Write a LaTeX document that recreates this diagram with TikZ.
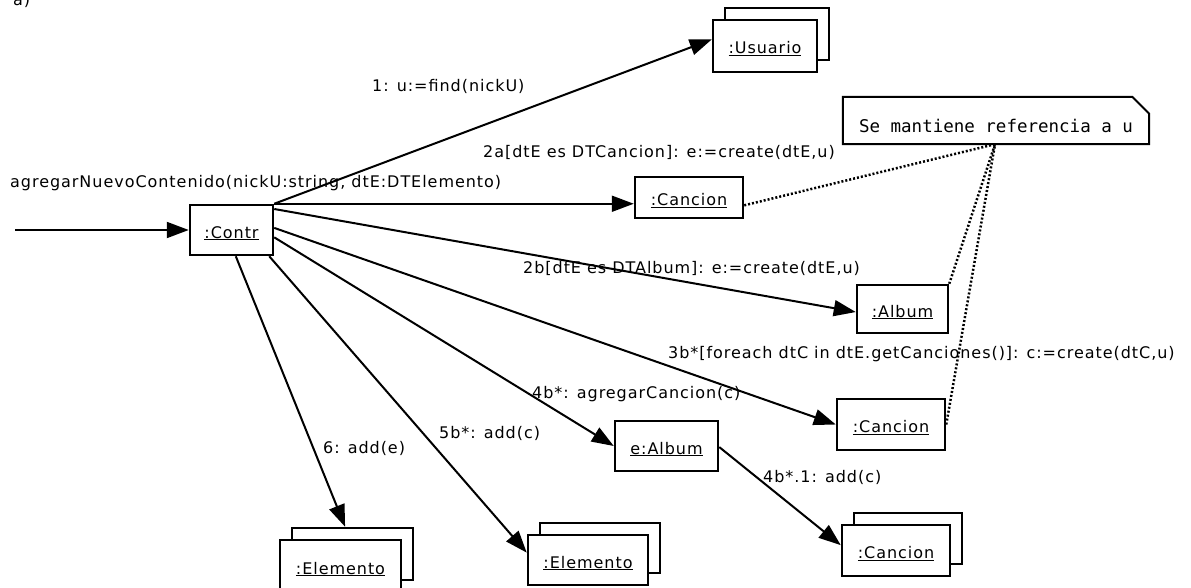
\documentclass[tikz,border=0pt]{standalone}
\usepackage{fontspec}
\setmainfont{DejaVu Sans}[LetterSpace=6]
\setmonofont{DejaVu Sans Mono}
\usetikzlibrary{arrows.meta,calc}

\begin{document}
\begin{tikzpicture}[x=1pt,y=-1pt,
  obj/.style={draw, line width=2.5pt, fill=white, inner sep=0pt,
    text height=18pt, text depth=2pt, font=\fontsize{16}{19}\selectfont},
  msg/.style={-{Triangle[length=22pt,width=16pt]}, line width=2pt},
  lbl/.style={anchor=base west, inner sep=0pt, font=\fontsize{16}{19}\selectfont},
  link/.style={line width=2.5pt, dash pattern=on 2pt off 2pt},
]
\useasboundingbox (0,0) rectangle (1191,588);

% figure tag
\node[lbl] (tag) at (13,6) {a)};

% objects (stacked ones: back copy first)
\node[obj, minimum width=83pt, minimum height=50pt] (contr) at (231.5,230) {\underline{:Contr}};

\node[obj, minimum width=104pt, minimum height=52pt] (usuarioB) at (777,34) {};
\node[obj, minimum width=104pt, minimum height=52pt] (usuario) at (765,46) {\underline{:Usuario}};

\node[obj, minimum width=108pt, minimum height=41pt] (cancionA) at (689,197.5) {\underline{:Cancion}};
\node[obj, minimum width=91pt, minimum height=48pt] (album) at (902.5,309) {\underline{:Album}};
\node[obj, minimum width=108pt, minimum height=51pt] (cancionB) at (891,424.5) {\underline{:Cancion}};
\node[obj, minimum width=103pt, minimum height=50pt] (ealbum) at (666.5,446) {\underline{e:Album}};

\node[obj, minimum width=108pt, minimum height=51pt] (cancionCB) at (908,538.5) {};
\node[obj, minimum width=108pt, minimum height=51pt] (cancionC) at (896,550.5) {\underline{:Cancion}};

\node[obj, minimum width=121pt, minimum height=52pt] (elemAB) at (352.5,554) {};
\node[obj, minimum width=121pt, minimum height=52pt] (elemA) at (340.5,566) {\underline{:Elemento}};

\node[obj, minimum width=120pt, minimum height=50pt] (elemBB) at (600,548) {};
\node[obj, minimum width=120pt, minimum height=50pt] (elemB) at (588,560) {\underline{:Elemento}};

% note with folded corner
\node[inner sep=0pt, minimum width=306pt, minimum height=47pt,
  text height=25pt, text depth=0pt,
  font=\ttfamily\fontsize{17.5}{20}\selectfont] (note) at (996,120.5) {Se mantiene referencia a u};
\draw[line width=2pt, line join=miter]
  (note.north west) -- ($(note.north east)+(-17,0)$) -- ($(note.north east)+(0,17)$)
  -- (note.south east) -- (note.south west) -- cycle;

% incoming message
\coordinate (caller) at (15,230);
\draw[msg] (caller) -- (contr.west);
\node[lbl] (m0) at (10,188) {agregarNuevoContenido(nickU:string, dtE:DTElemento)};

% messages sent by the controller
\draw[msg] (contr.north east) -- ($(usuario.north west)!0.38!(usuario.south west)$);
\node[lbl] (m1) at (372,92) {1: u:=find(nickU)};

\draw[msg] (contr.north east) -- (contr.north east -| cancionA.west);
\node[lbl] (m2a) at (483,158) {2a[dtE es DTCancion]: e:=create(dtE,u)};

\draw[msg] ($(contr.north east)!0.1!(contr.south east)$) -- ($(album.north west)!0.56!(album.south west)$);
\node[lbl] (m2b) at (523,273) {2b[dtE es DTAlbum]: e:=create(dtE,u)};

\draw[msg] ($(contr.north east)!0.46!(contr.south east)$) -- (cancionB.west);
\node[lbl] (m3b) at (668,358) {3b*[foreach dtC in dtE.getCanciones()]: c:=create(dtC,u)};

\draw[msg] ($(contr.north east)!0.64!(contr.south east)$) -- (ealbum.west);
\node[lbl] (m4b) at (532,398) {4b*: agregarCancion(c)};

\draw[msg] ($(contr.south east)+(-5,0)$) -- ($(elemB.north west)!0.36!(elemB.south west)$);
\node[lbl] (m5b) at (439,438) {5b*: add(c)};

\draw[msg] ($(contr.south west)!0.55!(contr.south east)$) -- ($(elemAB.north west)!0.44!(elemAB.north east)$);
\node[lbl] (m6) at (323,453) {6: add(e)};

\draw[msg] ($(ealbum.north east)!0.52!(ealbum.south east)$) -- ($(cancionC.north west)!0.4!(cancionC.south west)$);
\node[lbl] (m4b1) at (763,482) {4b*.1: add(c)};

% note anchors
\draw[link] ($(cancionA.north east)!0.68!(cancionA.south east)$) -- ($(note.south)+(-1,0)$);
\draw[link] (album.north east) -- ($(note.south)+(-1,0)$);
\draw[link] (cancionB.east) -- ($(note.south)+(-1,0)$);

\end{tikzpicture}
\end{document}
